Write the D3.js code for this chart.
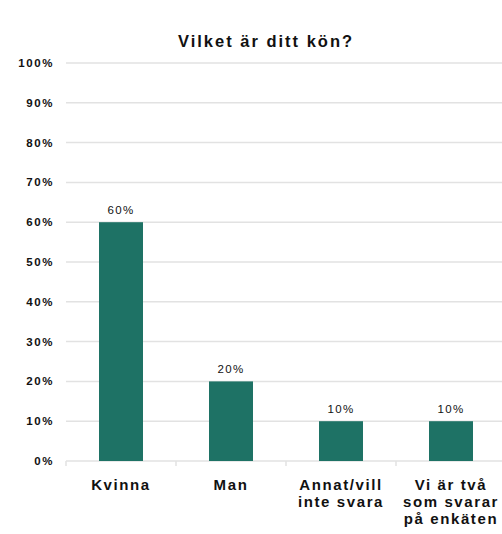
<!DOCTYPE html>
<html>
<head>
<meta charset="utf-8">
<script src="https://cdn.jsdelivr.net/npm/d3@7"></script>
<style>
body { margin: 0; background: #fff; }
text { font-family: "Liberation Sans", Arial, sans-serif; fill: #111; }
</style>
</head>
<body>
<svg id="chart" width="502" height="534"></svg>
<script>
// data
var categories = [["Kvinna"], ["Man"], ["Annat/vill", "inte svara"], ["Vi är två", "som svarar", "på enkäten"]];
var values = [0.6, 0.2, 0.1, 0.1];
var tickValues = [0, 0.1, 0.2, 0.3, 0.4, 0.5, 0.6, 0.7, 0.8, 0.9, 1];
var title = "Vilket är ditt kön?";

var svg = d3.select("#chart");
var margin = {left: 66, right: -4, top: 63, bottom: 73};
var W = 502, H = 534;

var x = d3.scaleBand().domain(d3.range(categories.length)).range([margin.left, W - margin.right]).paddingInner(0.6).paddingOuter(0.3);
var xt = d3.scaleBand().domain(d3.range(categories.length)).range([margin.left, W - margin.right]);
var y = d3.scaleLinear().domain([0, 1]).range([H - margin.bottom, margin.top]);

svg.append("text")
	.attr("x", 266).attr("y", 47)
	.attr("text-anchor", "middle")
	.style("font-size", "16.5px").style("font-weight", "bold").style("letter-spacing", "2px")
	.text(title);

// grid
svg.append("g").selectAll("line").data(tickValues).enter().append("line")
	.attr("x1", margin.left).attr("x2", W)
	.attr("y1", function(d) { return y(d) }).attr("y2", function(d) { return y(d) })
	.attr("stroke", "#e2e2e2").attr("stroke-width", 1.5);

// y axis labels
svg.append("g").selectAll("text").data(tickValues).enter().append("text")
	.attr("x", 54).attr("y", function(d) { return y(d) + 4 })
	.attr("text-anchor", "end")
	.style("font-size", "11.5px").style("font-weight", "bold").style("letter-spacing", "1.6px")
	.text(function(d) { return d3.format(".0%")(d) });

// x ticks
svg.append("g").selectAll("line").data(d3.range(categories.length)).enter().append("line")
	.attr("x1", function(d) { return xt(d) }).attr("x2", function(d) { return xt(d) })
	.attr("y1", y(0)).attr("y2", y(0) + 5)
	.attr("stroke", "#e2e2e2").attr("stroke-width", 1.5);

// bars
svg.append("g").selectAll("rect").data(values).enter().append("rect")
	.attr("x", function(d, i) { return x(i) })
	.attr("width", x.bandwidth())
	.attr("y", function(d) { return y(d) })
	.attr("height", function(d) { return y(0) - y(d) })
	.attr("fill", "#1e7265");

// value labels
svg.append("g").selectAll("text").data(values).enter().append("text")
	.attr("x", function(d, i) { return x(i) + x.bandwidth() / 2 })
	.attr("y", function(d) { return y(d) - 8 })
	.attr("text-anchor", "middle")
	.style("font-size", "11.5px").style("letter-spacing", "1.3px")
	.text(function(d) { return d3.format(".0%")(d) });

// category labels
var cat = svg.append("g").selectAll("text").data(categories).enter().append("text")
	.attr("x", function(d, i) { return xt(i) + xt.bandwidth() / 2 })
	.attr("y", 490)
	.attr("text-anchor", "middle")
	.style("font-size", "15px").style("font-weight", "bold").style("letter-spacing", "1.6px");
cat.selectAll("tspan").data(function(d) { return d }).enter().append("tspan")
	.attr("x", function() { return d3.select(this.parentNode).attr("x") })
	.attr("dy", function(d, i) { return i == 0 ? 0 : 17 })
	.text(function(d) { return d });
</script>
</body>
</html>
